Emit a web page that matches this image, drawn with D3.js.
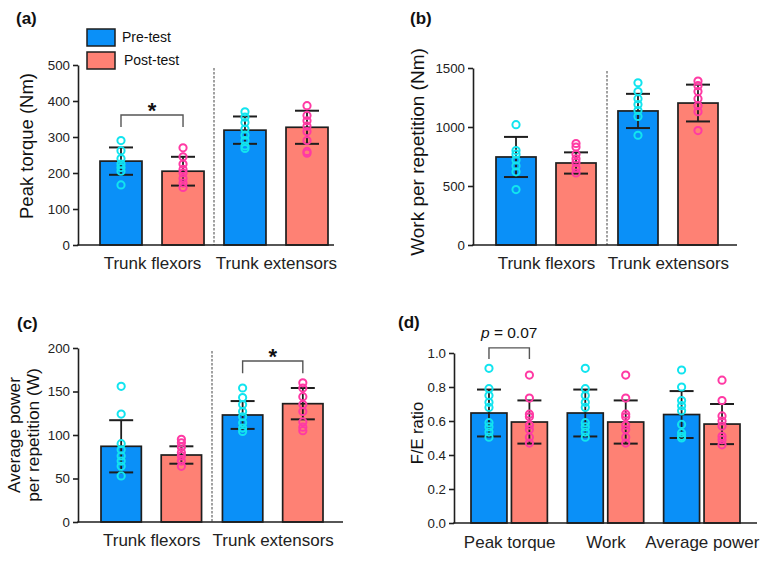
<!DOCTYPE html>
<html>
<head>
<meta charset="utf-8">
<script src="https://cdn.jsdelivr.net/npm/d3@7/dist/d3.min.js"></script>
<style>
body { margin: 0; background: #fff; }
svg { font-family: "Liberation Sans", Arial, Helvetica, sans-serif; }
</style>
</head>
<body>
<script>
"use strict";

// categories
const flexExt = ["Trunk flexors", "Trunk extensors"];
const ratioCats = ["Peak torque", "Work", "Average power"];
const seriesNames = ["Pre-test", "Post-test"];

// (a) peak torque
const torquePreMean = [233, 319];
const torquePreSd = [38, 38];
const torquePostMean = [205, 327];
const torquePostSd = [40, 46];
const torquePrePts = [[290, 262, 240, 225, 215, 205, 167], [370, 355, 340, 322, 305, 290, 275, 268]];
const torquePostPts = [[270, 245, 225, 210, 200, 185, 172, 160], [387, 360, 345, 330, 315, 290, 260, 255]];

// (b) work per repetition
const workPreMean = [746, 1136];
const workPreSd = [170, 145];
const workPostMean = [695, 1203];
const workPostSd = [90, 156];
const workPrePts = [[1020, 800, 770, 720, 670, 620, 470], [1375, 1300, 1240, 1190, 1140, 1090, 930]];
const workPostPts = [[860, 830, 770, 730, 700, 650, 610], [1390, 1350, 1300, 1240, 1180, 1130, 970]];

// (c) average power per repetition
const powerPreMean = [87, 123];
const powerPreSd = [30, 16];
const powerPostMean = [77, 136];
const powerPostSd = [10, 18];
const powerPrePts = [[156, 124, 90, 83, 76, 70, 64, 53], [154, 143, 135, 127, 121, 114, 108, 104]];
const powerPostPts = [[95, 91, 86, 80, 76, 70, 64], [160, 154, 144, 135, 127, 115, 109, 105]];

// (d) F/E ratio
const ratioPreMean = [0.647, 0.647, 0.638];
const ratioPreSd = [0.138, 0.138, 0.138];
const ratioPostMean = [0.594, 0.594, 0.582];
const ratioPostSd = [0.127, 0.127, 0.118];
const ratioPrePts = [[0.91, 0.79, 0.75, 0.71, 0.68, 0.59, 0.565, 0.535, 0.505],
                     [0.91, 0.79, 0.75, 0.71, 0.68, 0.59, 0.565, 0.535, 0.505],
                     [0.90, 0.80, 0.72, 0.69, 0.66, 0.58, 0.53, 0.51, 0.50]];
const ratioPostPts = [[0.87, 0.735, 0.64, 0.625, 0.575, 0.55, 0.505, 0.47],
                      [0.87, 0.735, 0.64, 0.625, 0.575, 0.55, 0.505, 0.47],
                      [0.84, 0.72, 0.63, 0.60, 0.57, 0.51, 0.49, 0.46]];

const barColor = ["#0a90f8", "#fe8174"];
const dotColor = ["#12e4ef", "#ff3aa4"];
const ink = "#1e1e1e";

const svg = d3.select("body").append("svg")
    .attr("width", 770)
    .attr("height", 561);

function panel(p) {
    const g = svg.append("g");

    const y = d3.scaleLinear().domain([0, p.yMax]).range([p.yBottom, p.yTop]);
    const xg = d3.scaleBand().domain(p.cats).range([p.barStart, p.barEnd]).paddingInner(p.gPad);
    const xs = d3.scaleBand().domain(seriesNames).range([0, xg.bandwidth()]).paddingInner(p.sPad);
    const bw = xs.bandwidth();
    const cx = (c, s) => xg(c) + xs(s) + bw / 2;

    // dashed divider between flexors and extensors
    if (p.divider) {
        const dx = (xg(p.cats[0]) + xg.bandwidth() + xg(p.cats[1])) / 2;
        g.append("line")
            .attr("x1", dx).attr("x2", dx)
            .attr("y1", y(p.yMax) + 3).attr("y2", y(0))
            .attr("stroke", "#555").attr("stroke-width", 1.1)
            .attr("stroke-dasharray", "2.5,1.5");
    }

    seriesNames.forEach((s, si) => {
        const d = p.series[si];
        p.cats.forEach((c, ci) => {
            const x = cx(c, s);
            const m = d.mean[ci], sd = d.sd[ci];
            g.append("rect")
                .attr("x", xg(c) + xs(s))
                .attr("y", y(m))
                .attr("width", bw)
                .attr("height", y(0) - y(m))
                .attr("fill", barColor[si])
                .attr("stroke", ink)
                .attr("stroke-width", 1.7);

            // error bar
            g.append("line")
                .attr("x1", x).attr("x2", x)
                .attr("y1", y(m - sd)).attr("y2", y(m + sd))
                .attr("stroke", ink).attr("stroke-width", 1.8);
            [m - sd, m + sd].forEach(v => {
                g.append("line")
                    .attr("x1", x - 12).attr("x2", x + 12)
                    .attr("y1", y(v)).attr("y2", y(v))
                    .attr("stroke", ink).attr("stroke-width", 2);
            });

            // individual points
            g.selectAll(null)
                .data(d.pts[ci])
                .enter()
                .append("circle")
                .attr("cx", x)
                .attr("cy", v => y(v))
                .attr("r", 3.6)
                .attr("fill", "none")
                .attr("stroke", dotColor[si])
                .attr("stroke-width", 2);
        });
    });

    // y axis
    const yAxis = d3.axisLeft(y)
        .tickValues(d3.range(0, p.yMax + p.step / 2, p.step))
        .tickSize(5)
        .tickSizeOuter(0)
        .tickPadding(3)
        .tickFormat(p.fmt);
    const ya = g.append("g")
        .attr("transform", `translate(${p.x0},0)`)
        .call(yAxis);
    ya.select(".domain").attr("stroke", ink).attr("stroke-width", 1.6);
    ya.selectAll(".tick line").attr("stroke", ink).attr("stroke-width", 1.6);
    ya.selectAll(".tick text").attr("font-size", 13.3).attr("fill", "#222")
        .attr("font-family", "'Liberation Sans', Arial, sans-serif");

    // x axis line
    g.append("line")
        .attr("x1", p.x0 - 0.8).attr("x2", p.xEnd)
        .attr("y1", y(0)).attr("y2", y(0))
        .attr("stroke", ink).attr("stroke-width", 1.6);

    // group labels
    const xp = d3.scalePoint()
        .domain(p.cats)
        .range([xg(p.cats[0]) + xg.bandwidth() / 2, xg(p.cats[p.cats.length - 1]) + xg.bandwidth() / 2]);
    const xa = g.append("g")
        .attr("transform", `translate(0,${y(0)})`)
        .call(d3.axisBottom(xp).tickSize(0).tickPadding(p.labelPad));
    xa.select(".domain").remove();
    xa.selectAll(".tick text").attr("font-size", 17).attr("fill", "#222")
        .attr("font-family", "'Liberation Sans', Arial, sans-serif");

    // y label
    const yl = g.append("text")
        .attr("transform", `translate(${p.ylx},${p.yly}) rotate(-90)`)
        .attr("text-anchor", "middle")
        .attr("font-size", p.ylSize)
        .attr("fill", "#111");
    p.ylabel.forEach((t, i) => {
        yl.append("tspan")
            .attr("x", 0)
            .attr("dy", i === 0 ? (p.ylabel.length > 1 ? "-0.2em" : "0.35em") : "1.12em")
            .text(t);
    });

    // panel letter
    g.append("text")
        .attr("x", p.tx).attr("y", p.ty)
        .attr("font-size", 17).attr("font-weight", "bold")
        .attr("fill", "#111")
        .text(p.title);

    // significance bracket
    if (p.bracket) {
        const b = p.bracket;
        const x1 = cx(b.cat, seriesNames[0]), x2 = cx(b.cat, seriesNames[1]);
        g.append("path")
            .attr("d", `M${x1},${y(b.foot)}V${y(b.top)}H${x2}V${y(b.foot)}`)
            .attr("fill", "none")
            .attr("stroke", "#555")
            .attr("stroke-width", 1.4);
        const t = g.append("text")
            .attr("x", (x1 + x2) / 2)
            .attr("text-anchor", "middle")
            .attr("fill", "#111");
        if (b.label === "*") {
            t.attr("y", y(b.top) + 3).attr("font-size", 22).attr("font-weight", "bold").text("*");
        } else {
            t.attr("y", y(b.top) - 10).attr("font-size", 15.5);
            t.append("tspan").attr("font-style", "italic").text("p");
            t.append("tspan").text(" = " + b.label);
        }
    }
    return g;
}

const pa = panel({
    title: "(a)", tx: 16, ty: 24,
    cats: flexExt, yMax: 500, step: 100, fmt: d3.format("d"),
    x0: 78, yTop: 65, yBottom: 245, xEnd: 334,
    barStart: 100, barEnd: 328, gPad: 0.161, sPad: 0.323,
    divider: true, labelPad: 12,
    ylabel: ["Peak torque (Nm)"], ylx: 27, yly: 146, ylSize: 18.5,
    series: [
        { mean: torquePreMean, sd: torquePreSd, pts: torquePrePts },
        { mean: torquePostMean, sd: torquePostSd, pts: torquePostPts }
    ],
    bracket: { cat: flexExt[0], top: 361, foot: 328, label: "*" }
});

panel({
    title: "(b)", tx: 410, ty: 24,
    cats: flexExt, yMax: 1500, step: 500, fmt: d3.format("d"),
    x0: 473, yTop: 68, yBottom: 245, xEnd: 737,
    barStart: 496, barEnd: 718, gPad: 0.18, sPad: 0.333,
    divider: true, labelPad: 12,
    ylabel: ["Work per repetition (Nm)"], ylx: 417, yly: 152, ylSize: 19,
    series: [
        { mean: workPreMean, sd: workPreSd, pts: workPrePts },
        { mean: workPostMean, sd: workPostSd, pts: workPostPts }
    ]
});

panel({
    title: "(c)", tx: 17, ty: 329,
    cats: flexExt, yMax: 200, step: 50, fmt: d3.format("d"),
    x0: 78, yTop: 348, yBottom: 522, xEnd: 343,
    barStart: 101, barEnd: 323, gPad: 0.172, sPad: 0.33,
    divider: true, labelPad: 12,
    ylabel: ["Average power", "per repetition (W)"], ylx: 23, yly: 435, ylSize: 17.3,
    series: [
        { mean: powerPreMean, sd: powerPreSd, pts: powerPrePts },
        { mean: powerPostMean, sd: powerPostSd, pts: powerPostPts }
    ],
    bracket: { cat: flexExt[1], top: 185, foot: 171, label: "*" }
});

panel({
    title: "(d)", tx: 398, ty: 328,
    cats: ratioCats, yMax: 1.0, step: 0.2, fmt: d3.format(".1f"),
    x0: 454, yTop: 353, yBottom: 523, xEnd: 757,
    barStart: 471, barEnd: 740, gPad: 0.207, sPad: 0.111,
    divider: false, labelPad: 13,
    ylabel: ["F/E ratio"], ylx: 417, yly: 433, ylSize: 16.5,
    series: [
        { mean: ratioPreMean, sd: ratioPreSd, pts: ratioPrePts },
        { mean: ratioPostMean, sd: ratioPostSd, pts: ratioPostPts }
    ],
    bracket: { cat: ratioCats[0], top: 1.03, foot: 0.965, label: "0.07" }
});

// legend (panel a)
const legend = pa.append("g");
seriesNames.forEach((s, i) => {
    legend.append("rect")
        .attr("x", 87).attr("y", 29 + i * 23)
        .attr("width", 28).attr("height", 17)
        .attr("fill", barColor[i])
        .attr("stroke", ink).attr("stroke-width", 1.5);
    legend.append("text")
        .attr("x", 122 + i * 2).attr("y", 37.5 + i * 23)
        .attr("dy", "0.35em")
        .attr("font-size", 14).attr("fill", "#111")
        .text(s);
});
</script>
</body>
</html>
